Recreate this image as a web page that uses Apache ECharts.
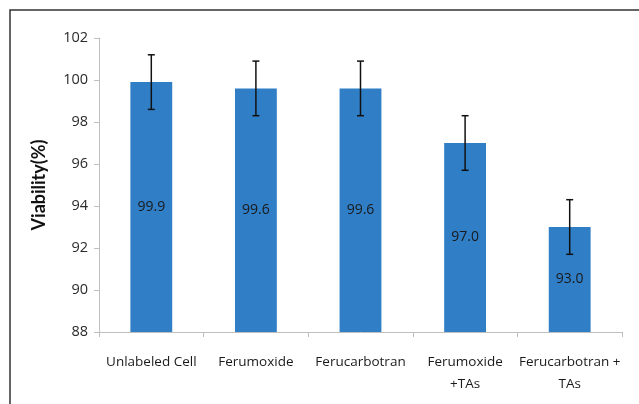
<!DOCTYPE html>
<html><head><meta charset="utf-8">
<script src="https://cdn.jsdelivr.net/npm/echarts@6/dist/echarts.min.js"></script>
<style>html,body{margin:0;padding:0;background:#fff}#c{width:639px;height:404px}</style>
</head><body><div id="c"></div>
<script>
const categories = ['Unlabeled Cell', 'Ferumoxide', 'Ferucarbotran', 'Ferumoxide\n+TAs', 'Ferucarbotran +\nTAs'];
const viability = [99.9, 99.6, 99.6, 97.0, 93.0];
const errorLow = [98.6, 98.3, 98.3, 95.7, 91.7];
const errorHigh = [101.2, 100.9, 100.9, 98.3, 94.3];
const yTicks = [88, 90, 92, 94, 96, 98, 100, 102];

const chart = echarts.init(document.getElementById('c'), null, {renderer: 'canvas'});
const font = '"Open Sans", "Noto Sans", sans-serif';
chart.setOption({
  animation: false,
  backgroundColor: '#fff',
  graphic: [{
    type: 'polyline', silent: true,
    shape: {points: [[10, 410], [10, 10], [645, 10]]},
    style: {stroke: '#333', lineWidth: 1.5, fill: null}
  }],
  grid: {left: 99, right: 17, top: 38, bottom: 72},
  xAxis: {
    type: 'category', data: categories,
    axisLine: {lineStyle: {color: '#bfbfbf', width: 1}},
    axisTick: {show: true, length: 5, lineStyle: {color: '#bfbfbf'}},
    axisLabel: {color: '#1a1a1a', fontSize: 13.5, fontFamily: font, margin: 19, lineHeight: 22, interval: 0}
  },
  yAxis: {
    type: 'value', min: yTicks[0], max: yTicks[yTicks.length - 1], interval: 2,
    name: 'Viability(%)', nameLocation: 'middle', nameGap: 51,
    nameTextStyle: {fontSize: 18, fontWeight: 'bold', color: '#111', fontFamily: 'Lato, "Open Sans", sans-serif'},
    axisLine: {show: true, lineStyle: {color: '#bfbfbf'}},
    axisTick: {show: true, length: 5, lineStyle: {color: '#bfbfbf'}},
    splitLine: {show: false},
    axisLabel: {color: '#2a2a2a', fontSize: 14.5, fontFamily: font, margin: 11}
  },
  series: [{
    type: 'bar', data: viability, barWidth: '40%',
    itemStyle: {color: '#2f7ec6'},
    label: {show: true, position: 'inside', color: '#1a1a1a', fontSize: 14, fontFamily: font,
      formatter: p => p.value.toFixed(1)}
  }, {
    type: 'custom',
    data: categories.map((c, i) => [i, errorLow[i], errorHigh[i]]),
    encode: {x: 0, y: [1, 2]},
    z: 10,
    renderItem: function (params, api) {
      const lo = api.coord([api.value(0), api.value(1)]);
      const hi = api.coord([api.value(0), api.value(2)]);
      const w = 3.5;
      const st = {stroke: '#111', lineWidth: 1.5};
      return {type: 'group', children: [
        {type: 'line', shape: {x1: lo[0], y1: lo[1], x2: hi[0], y2: hi[1]}, style: st},
        {type: 'line', shape: {x1: lo[0] - w, y1: lo[1], x2: lo[0] + w, y2: lo[1]}, style: st},
        {type: 'line', shape: {x1: hi[0] - w, y1: hi[1], x2: hi[0] + w, y2: hi[1]}, style: st}
      ]};
    }
  }]
});
</script></body></html>
